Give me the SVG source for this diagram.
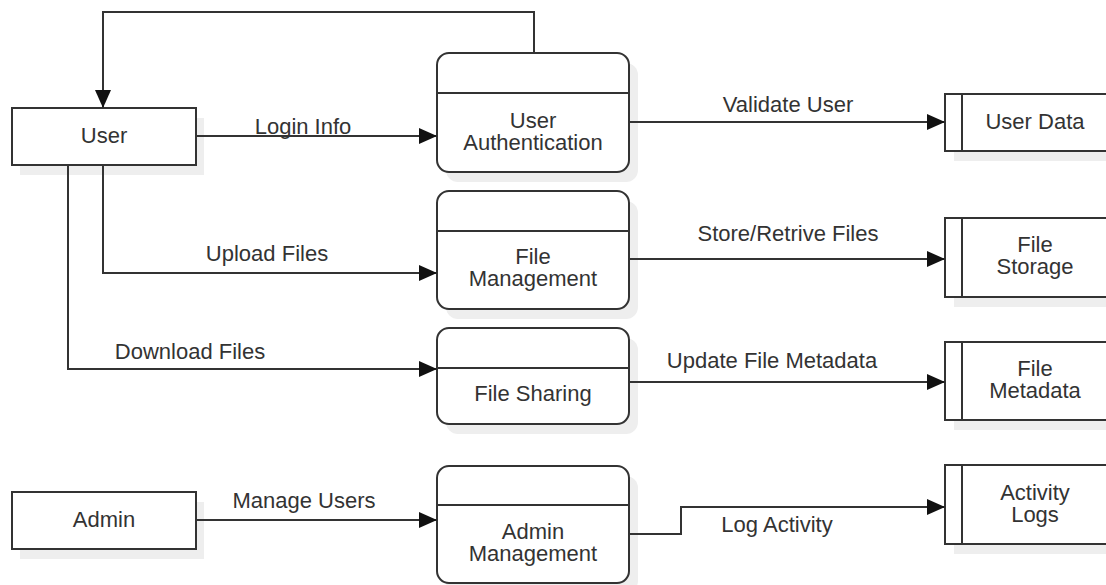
<svg xmlns="http://www.w3.org/2000/svg" width="1106" height="585" viewBox="0 0 1106 585">
  <style>
    .box { fill: #ffffff; stroke: #333333; stroke-width: 2; }
    .shadow { fill: #eeeeee; stroke: none; }
    .line { fill: none; stroke: #333333; stroke-width: 2; }
    .lbl { font-family: "Liberation Sans", Arial, sans-serif; font-size: 22px; fill: #333333; text-anchor: middle; }
  </style>
  <defs>
    <marker id="arrow" markerUnits="userSpaceOnUse" markerWidth="20" markerHeight="18" refX="18" refY="9" orient="auto">
      <path d="M0,1 L18,9 L0,17 Z" fill="#111111"/>
    </marker>
  </defs>
  <rect width="1106" height="585" fill="#ffffff"/>

  <!-- external entities -->
  <g id="user">
    <rect class="shadow" x="20" y="118" width="184" height="57"/>
    <rect class="box" x="12" y="108" width="184" height="57"/>
    <text class="lbl" x="104" y="143">User</text>
  </g>
  <g id="admin">
    <rect class="shadow" x="20" y="502" width="184" height="57"/>
    <rect class="box" x="12" y="492" width="184" height="57"/>
    <text class="lbl" x="104" y="527">Admin</text>
  </g>

  <!-- processes -->
  <g id="user-authentication">
    <rect class="shadow" x="446" y="63" width="192" height="119" rx="12"/>
    <rect class="box" x="437" y="53" width="192" height="119" rx="12"/>
    <line class="line" x1="437" y1="93" x2="629" y2="93"/>
    <text class="lbl" x="533" y="128">User</text>
    <text class="lbl" x="533" y="150">Authentication</text>
  </g>
  <g id="file-management">
    <rect class="shadow" x="446" y="201" width="192" height="118" rx="12"/>
    <rect class="box" x="437" y="191" width="192" height="118" rx="12"/>
    <line class="line" x1="437" y1="231" x2="629" y2="231"/>
    <text class="lbl" x="533" y="264">File</text>
    <text class="lbl" x="533" y="286">Management</text>
  </g>
  <g id="file-sharing">
    <rect class="shadow" x="446" y="338" width="192" height="96" rx="12"/>
    <rect class="box" x="437" y="328" width="192" height="96" rx="12"/>
    <line class="line" x1="437" y1="368" x2="629" y2="368"/>
    <text class="lbl" x="533" y="401">File Sharing</text>
  </g>
  <g id="admin-management">
    <rect class="shadow" x="446" y="476" width="192" height="117" rx="12"/>
    <rect class="box" x="437" y="466" width="192" height="117" rx="12"/>
    <line class="line" x1="437" y1="505" x2="629" y2="505"/>
    <text class="lbl" x="533" y="539">Admin</text>
    <text class="lbl" x="533" y="561">Management</text>
  </g>

  <!-- data stores (open on the right) -->
  <g id="user-data">
    <rect class="shadow" x="954" y="104" width="170" height="57"/>
    <rect class="box" x="945" y="94" width="170" height="57"/>
    <line class="line" x1="962" y1="94" x2="962" y2="151"/>
    <text class="lbl" x="1035" y="129">User Data</text>
  </g>
  <g id="file-storage">
    <rect class="shadow" x="954" y="228" width="170" height="79"/>
    <rect class="box" x="945" y="218" width="170" height="79"/>
    <line class="line" x1="962" y1="218" x2="962" y2="297"/>
    <text class="lbl" x="1035" y="252">File</text>
    <text class="lbl" x="1035" y="274">Storage</text>
  </g>
  <g id="file-metadata">
    <rect class="shadow" x="954" y="352" width="170" height="78"/>
    <rect class="box" x="945" y="342" width="170" height="78"/>
    <line class="line" x1="962" y1="342" x2="962" y2="420"/>
    <text class="lbl" x="1035" y="376">File</text>
    <text class="lbl" x="1035" y="398">Metadata</text>
  </g>
  <g id="activity-logs">
    <rect class="shadow" x="954" y="475" width="170" height="79"/>
    <rect class="box" x="945" y="465" width="170" height="79"/>
    <line class="line" x1="962" y1="465" x2="962" y2="544"/>
    <text class="lbl" x="1035" y="500">Activity</text>
    <text class="lbl" x="1035" y="522">Logs</text>
  </g>

  <!-- data flows -->
  <g id="connectors">
    <path class="line" d="M534,53 V12 H103 V108" marker-end="url(#arrow)"/>
    <path class="line" d="M196,136 H437" marker-end="url(#arrow)"/>
    <path class="line" d="M103,165 V273 H437" marker-end="url(#arrow)"/>
    <path class="line" d="M68,165 V369 H437" marker-end="url(#arrow)"/>
    <path class="line" d="M196,520 H437" marker-end="url(#arrow)"/>
    <path class="line" d="M629,122 H945" marker-end="url(#arrow)"/>
    <path class="line" d="M629,259 H945" marker-end="url(#arrow)"/>
    <path class="line" d="M629,382 H945" marker-end="url(#arrow)"/>
    <path class="line" d="M629,534 H681 V507 H945" marker-end="url(#arrow)"/>
    <text class="lbl" x="303" y="134">Login Info</text>
    <text class="lbl" x="267" y="261">Upload Files</text>
    <text class="lbl" x="190" y="359">Download Files</text>
    <text class="lbl" x="304" y="508">Manage Users</text>
    <text class="lbl" x="788" y="112">Validate User</text>
    <text class="lbl" x="788" y="241">Store/Retrive Files</text>
    <text class="lbl" x="772" y="368">Update File Metadata</text>
    <text class="lbl" x="777" y="532">Log Activity</text>
  </g>
</svg>
